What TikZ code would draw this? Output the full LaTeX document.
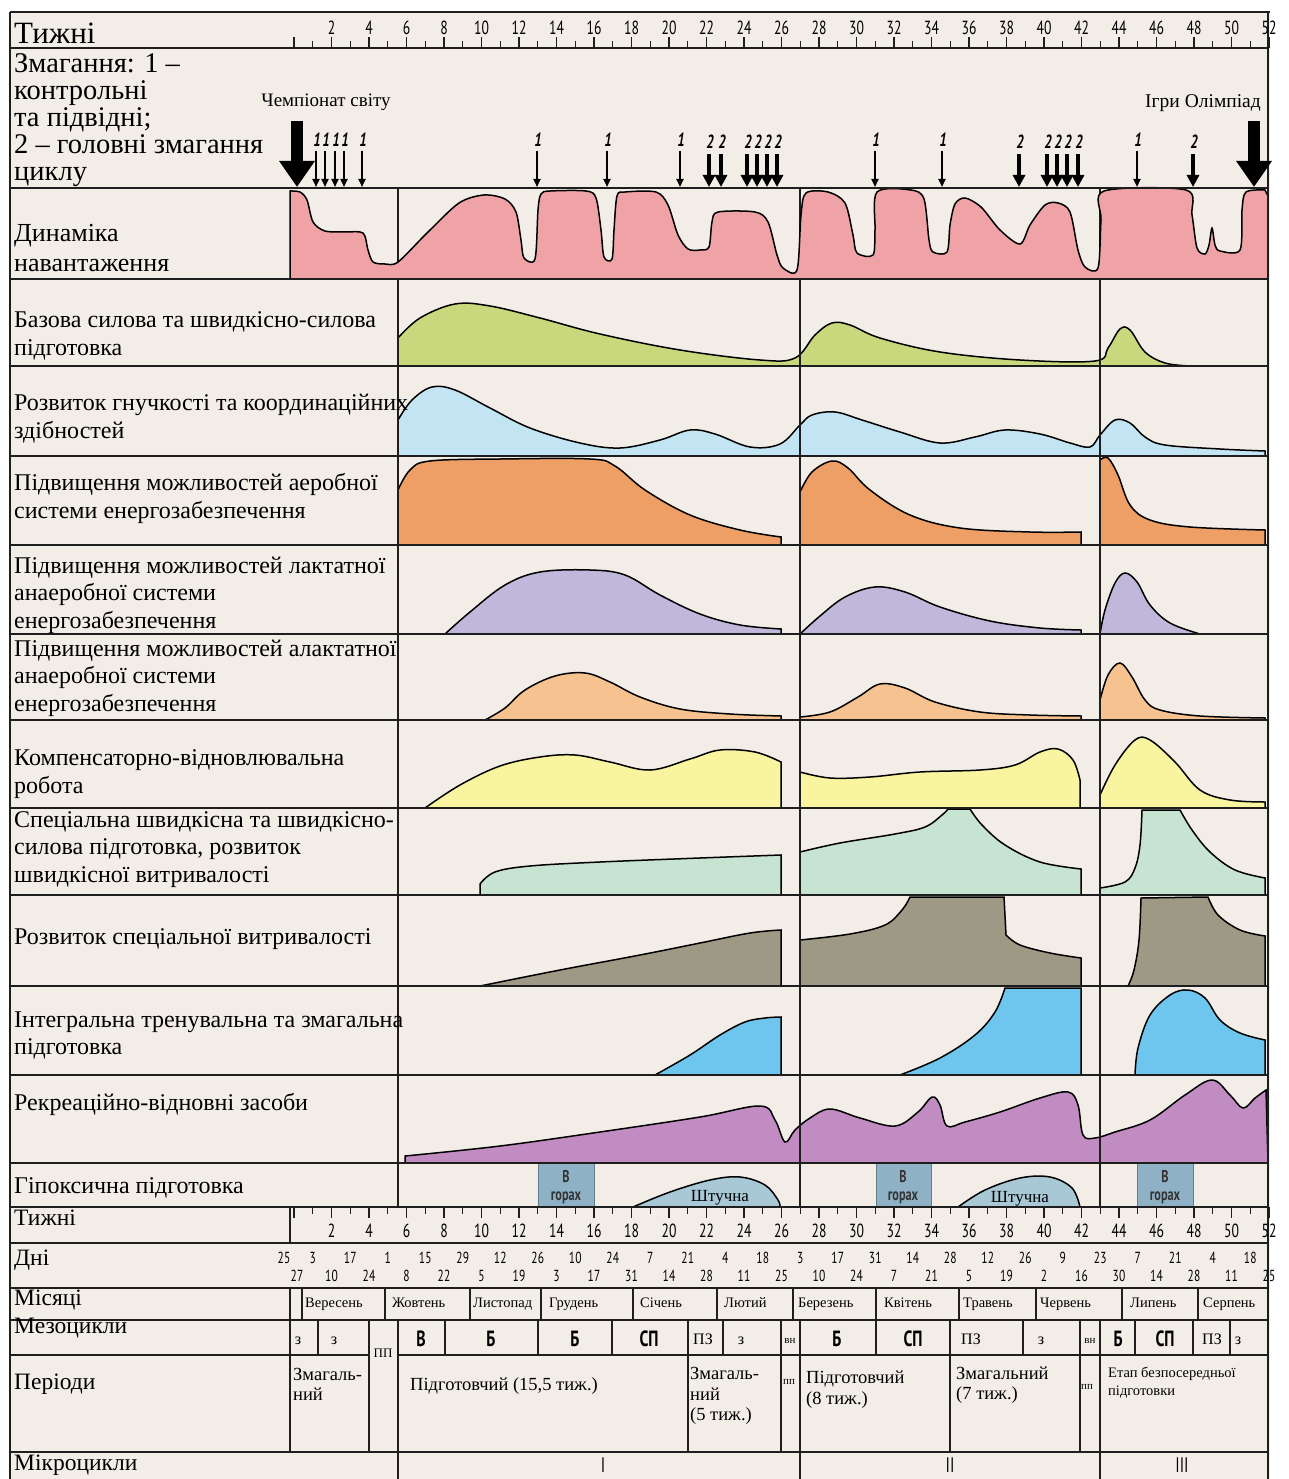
\documentclass[tikz,border=0pt]{standalone}
\usepackage{fontspec}
\setmainfont{Liberation Serif}
\newfontfamily\condsans[FakeStretch=0.72]{PT Sans}
\usetikzlibrary{arrows.meta}
\definecolor{bgc}{HTML}{F3EDE8}
\definecolor{pinkc}{HTML}{EFA3A7}
\definecolor{greenc}{HTML}{C9D87C}
\definecolor{lbluec}{HTML}{C3E4F3}
\definecolor{orangec}{HTML}{EE9F66}
\definecolor{lavc}{HTML}{BFB8DB}
\definecolor{peachc}{HTML}{F6C28F}
\definecolor{yellc}{HTML}{F8F4A0}
\definecolor{mintc}{HTML}{C7E3D1}
\definecolor{olivec}{HTML}{9D9984}
\definecolor{skyc}{HTML}{6EC6EE}
\definecolor{purpc}{HTML}{C18CC2}
\definecolor{hypc}{HTML}{8FB1C6}
\definecolor{hyptwo}{HTML}{A8C8D6}
\definecolor{linec}{HTML}{1E1E1E}
\newcommand\rowlbl[5]{%
  \foreach \t [count=\i from 0] in {#5}{\node[#2] (#1\i) at (14,{#3+#4*\i}) {\t};}}
\begin{document}
\begin{tikzpicture}[x=1pt,y=-1pt,
  grid/.style={line width=1.3pt, draw=linec},
  curve/.style={line width=1.5pt, draw=black},
  lbl/.style={font=\fontsize{24}{28}\selectfont, inner sep=0pt, anchor=base west},
  lblbig/.style={font=\fontsize{28.5}{28}\selectfont, inner sep=0pt, anchor=base west},
  lbldyn/.style={font=\fontsize{26}{28}\selectfont, inner sep=0pt, anchor=base west},
  lblbot/.style={font=\fontsize{23.5}{26}\selectfont, inner sep=0pt, anchor=base west},
  wk/.style={font=\condsans\fontsize{19}{19}\selectfont, inner sep=0pt, anchor=base},
  day/.style={font=\condsans\fontsize{16}{16}\selectfont, inner sep=0pt, anchor=base},
  mon/.style={font=\fontsize{14.5}{15}\selectfont, inner sep=0pt, anchor=base west},
  meso/.style={font=\fontsize{16}{16}\selectfont, inner sep=0pt, anchor=base},
  mesob/.style={font=\condsans\bfseries\fontsize{22}{22}\selectfont, inner sep=0pt, anchor=base},
  per/.style={font=\fontsize{18.5}{20}\selectfont, inner sep=0pt, anchor=base west},
  comp/.style={font=\condsans\bfseries\itshape\fontsize{19}{19}\selectfont, inner sep=0pt, anchor=base},
  arrone/.style={line width=1.8pt, draw=black, -{Triangle[width=7pt,length=8pt]}},
  arrtwo/.style={line width=4.5pt, draw=black, -{Triangle[width=12pt,length=12pt]}},
  arrbig/.style={line width=12pt, draw=black, -{Triangle[width=34pt,length=26pt]}},
  hbox/.style={fill=hypc, draw=hypc!70!black, line width=0.6pt},
  htxt/.style={font=\condsans\bfseries\fontsize{17}{17}\selectfont, text=black!80, inner sep=0pt, anchor=base},
  mcyc/.style={font=\condsans\fontsize{21}{21}\selectfont, inner sep=0pt, anchor=base}
]
\useasboundingbox (0,0) rectangle (1289,1479);
\fill[white] (0,0) rectangle (1289,1479);
\fill[bgc] (10,12) rectangle (1270,1479);

% lines in load row (under pink)
\foreach \x in {398,800,1100} \draw[grid] (\x,188) -- (\x,279);

% ---- Load dynamics
\filldraw[fill=pinkc, curve] (290,279) -- (290,191) -- plot[smooth,tension=0.5] coordinates {
 (290,191) (300,192) (307,200) (313,222) (325,231) (345,232) (363,233) (368,250) (373,262) (385,264) (398,262)
 (427,233) (459,203) (484,195) (505,199) (516,212) (521,240) (524,258) (535,259) (538,210) (541,194) (550,191)
 (586,191) (596,198) (601,230) (604,257) (612,259) (614,230) (617,196) (625,192) (656,192) (668,205) (678,235)
 (688,249) (700,250) (709,247) (712,222) (718,212) (755,212) (768,222) (777,255) (783,268) (797,270)
 (801,215) (806,193) (828,192) (845,203) (853,235) (857,253) (873,255) (875,230) (877,192) (911,190)
 (924,199) (929,240) (933,252) (947,252) (950,225) (955,204) (965,198) (981,207) (1000,230) (1020,244)
 (1030,225) (1045,205) (1058,203) (1070,212) (1078,250) (1085,267) (1098,268) (1101,220) (1104,191)
 (1186,190) (1192,215) (1197,248) (1205,254) (1209,245) (1212,228) (1215,245) (1220,251) (1240,250)
 (1242,210) (1246,192) (1265,190)} -- (1268,196) -- (1268,279) -- cycle;

% ---- Base strength
\filldraw[fill=greenc, curve] (398,366) -- (398,338) -- plot[smooth,tension=0.6] coordinates {
 (398,338) (420,318) (455,304) (490,306) (540,318) (600,334) (680,350) (760,360) (795,358) (815,335)
 (832,323) (850,325) (880,338) (940,352) (1020,360) (1095,361) (1108,348) (1120,329) (1130,330) (1145,352) (1165,363) (1190,366)} -- cycle;

% ---- Flexibility
\filldraw[fill=lbluec, curve] (398,456) -- (398,420) -- plot[smooth,tension=0.6] coordinates {
 (398,420) (412,400) (432,387) (455,390) (490,408) (530,428) (580,443) (620,448) (660,440) (690,430) (715,434)
 (750,447) (780,444) (800,425) (812,415) (835,412) (862,420) (900,432) (940,443) (975,437) (1005,430)
 (1040,434) (1070,443) (1090,447) (1100,435) (1115,420) (1130,423) (1145,437) (1165,445) (1220,449) (1265,451)}
 -- (1265,456) -- cycle;

% ---- Aerobic
\filldraw[fill=orangec, curve] (398,545) -- (398,490) -- plot[smooth,tension=0.6] coordinates {
 (398,490) (410,470) (430,461) (500,459) (590,459) (615,466) (645,490) (690,515) (740,530) (781,537)} -- (781,545) -- cycle;
\filldraw[fill=orangec, curve] (800,545) -- (800,492) -- plot[smooth,tension=0.6] coordinates {
 (800,492) (812,472) (832,461) (848,468) (870,490) (910,515) (960,528) (1030,532) (1081,532)} -- (1081,545) -- cycle;
\filldraw[fill=orangec, curve] (1100,545) -- (1100,460) -- plot[smooth,tension=0.6] coordinates {
 (1100,460) (1108,458) (1118,475) (1130,505) (1150,520) (1190,527) (1265,530)} -- (1265,545) -- cycle;

% ---- Lactate
\filldraw[fill=lavc, curve] (445,634) -- plot[smooth,tension=0.6] coordinates {
 (445,634) (470,612) (505,585) (540,572) (590,570) (625,575) (660,595) (700,614) (740,625) (781,629)} -- (781,634) -- cycle;
\filldraw[fill=lavc, curve] (800,634) -- plot[smooth,tension=0.6] coordinates {
 (800,634) (820,616) (845,597) (875,587) (905,592) (940,607) (990,621) (1040,628) (1081,630)} -- (1081,634) -- cycle;
\filldraw[fill=lavc, curve] (1100,634) -- plot[smooth,tension=0.6] coordinates {
 (1100,634) (1105,610) (1115,583) (1125,573) (1137,582) (1150,605) (1170,623) (1200,634)} -- cycle;

% ---- Alactate
\filldraw[fill=peachc, curve] (485,720) -- plot[smooth,tension=0.6] coordinates {
 (485,720) (505,708) (525,690) (555,676) (585,673) (610,682) (640,697) (680,709) (730,714) (781,716)} -- (781,720) -- cycle;
\filldraw[fill=peachc, curve] (800,720) -- (800,717) -- plot[smooth,tension=0.6] coordinates {
 (800,717) (830,712) (858,697) (880,684) (905,688) (935,702) (980,712) (1030,715) (1081,716)} -- (1081,720) -- cycle;
\filldraw[fill=peachc, curve] (1100,720) -- (1100,700) -- plot[smooth,tension=0.6] coordinates {
 (1100,700) (1108,675) (1120,663) (1132,677) (1145,700) (1160,710) (1200,716) (1265,718)} -- (1265,720) -- cycle;

% ---- Compensatory
\filldraw[fill=yellc, curve] (425,808) -- plot[smooth,tension=0.6] coordinates {
 (425,808) (460,785) (500,766) (540,757) (575,755) (610,762) (650,770) (690,759) (720,750) (755,752) (781,762)} -- (781,808) -- cycle;
\filldraw[fill=yellc, curve] (800,808) -- (800,772) -- plot[smooth,tension=0.6] coordinates {
 (800,772) (830,778) (870,777) (920,772) (980,770) (1015,765) (1040,752) (1058,749) (1073,760) (1080,780)} -- (1080,808) -- cycle;
\filldraw[fill=yellc, curve] (1100,808) -- (1100,795) -- plot[smooth,tension=0.6] coordinates {
 (1100,795) (1115,765) (1135,740) (1150,740) (1175,762) (1200,790) (1230,800) (1265,802)} -- (1265,808) -- cycle;

% ---- Special speed
\filldraw[fill=mintc, curve] (480,895) -- (480,884) -- plot[smooth,tension=0.6] coordinates {
 (480,884) (495,872) (530,866) (600,862) (700,858) (781,855)} -- (781,895) -- cycle;
\filldraw[fill=mintc, curve] (800,895) -- (800,852) -- plot[smooth,tension=0.6] coordinates {
 (800,852) (840,843) (895,834) (925,827) (942,815) (948,809)} -- (970,809) -- plot[smooth,tension=0.6] coordinates {
 (970,809) (982,825) (1005,845) (1040,862) (1081,869)} -- (1081,895) -- cycle;
\filldraw[fill=mintc, curve] (1100,895) -- (1100,888) -- plot[smooth,tension=0.6] coordinates {
 (1100,888) (1125,882) (1135,868) (1140,845) (1142,810)} -- (1180,810) -- plot[smooth,tension=0.6] coordinates {
 (1180,810) (1192,830) (1210,852) (1235,870) (1265,878)} -- (1265,895) -- cycle;

% ---- Special endurance
\filldraw[fill=olivec, curve] (480,986) -- plot[smooth,tension=0.6] coordinates {
 (480,986) (560,970) (640,955) (700,943) (750,933) (781,930)} -- (781,986) -- cycle;
\filldraw[fill=olivec, curve] (800,986) -- (800,940) -- plot[smooth,tension=0.6] coordinates {
 (800,940) (850,934) (885,925) (902,910) (910,897)} -- (1004,897) -- (1006,935) -- plot[smooth,tension=0.6] coordinates {
 (1006,935) (1020,945) (1050,953) (1081,958)} -- (1081,986) -- cycle;
\filldraw[fill=olivec, curve] (1128,986) -- plot[smooth,tension=0.6] coordinates {
 (1128,986) (1134,970) (1139,940) (1141,898)} -- (1208,897) -- plot[smooth,tension=0.6] coordinates {
 (1208,897) (1218,915) (1240,930) (1265,936)} -- (1265,986) -- cycle;

% ---- Integral
\filldraw[fill=skyc, curve] (655,1075) -- plot[smooth,tension=0.6] coordinates {
 (655,1075) (690,1055) (720,1035) (745,1022) (765,1018) (781,1017)} -- (781,1075) -- cycle;
\filldraw[fill=skyc, curve] (900,1075) -- plot[smooth,tension=0.6] coordinates {
 (900,1075) (940,1058) (975,1035) (995,1012) (1005,988)} -- (1081,988) -- (1081,1075) -- cycle;
\filldraw[fill=skyc, curve] (1135,1075) -- plot[smooth,tension=0.6] coordinates {
 (1135,1075) (1138,1048) (1150,1015) (1170,995) (1188,990) (1205,998) (1220,1020) (1240,1033) (1265,1040)} -- (1265,1075) -- cycle;

% ---- Recreation
\filldraw[fill=purpc, curve] (405,1163) -- (405,1156) -- plot[smooth,tension=0.6] coordinates {
 (405,1156) (500,1146) (600,1132) (700,1117) (760,1106) (775,1120) (785,1142) (795,1130) (810,1118) (830,1109)
 (860,1118) (895,1126) (918,1112) (932,1097) (940,1105) (947,1126) (965,1122) (1000,1112) (1040,1098)
 (1068,1092) (1078,1105) (1083,1135) (1095,1138) (1115,1132) (1150,1120) (1185,1095) (1212,1080)
 (1230,1095) (1243,1108) (1255,1098) (1266,1090)} -- (1268,1163) -- cycle;

% ---- Hypoxic
\filldraw[fill=hyptwo, curve] (633,1207) -- plot[smooth,tension=0.6] coordinates {
 (633,1207) (670,1192) (710,1180) (740,1177) (765,1185) (778,1200) (780,1207)} -- cycle;
\filldraw[fill=hyptwo, curve] (958,1207) -- plot[smooth,tension=0.6] coordinates {
 (958,1207) (985,1190) (1020,1178) (1050,1177) (1072,1188) (1080,1207)} -- cycle;
\filldraw[hbox] (538,1163) rectangle (594,1207);
\filldraw[hbox] (876,1163) rectangle (931,1207);
\filldraw[hbox] (1137,1163) rectangle (1193,1207);
\foreach \cx [count=\i] in {566,903,1165}{
  \node[htxt] (hb\i) at (\cx,1182) {В};
  \node[htxt] (hg\i) at (\cx,1200) {горах};}
\node[font=\fontsize{17}{17}\selectfont, inner sep=0pt, anchor=base] (sh1) at (720,1201) {Штучна};
\node[font=\fontsize{17}{17}\selectfont, inner sep=0pt, anchor=base] (sh2) at (1020,1202) {Штучна};

% ---- grid
\draw[grid] (10,12) -- (1270,12);
\foreach \y in {48,188,279,366,456,545,634,720,808,895,986,1075,1163,1207,1243,1288,1320}
  \draw[grid] (10,\y) -- (1268,\y);
\draw[grid] (10,1355) -- (369,1355) (398,1355) -- (1268,1355);
\draw[grid, line width=2.4pt] (10,1452) -- (1268,1452);
\draw[grid] (10,12) -- (10,1479);
\draw[grid] (1268,12) -- (1268,1479);
\foreach \x in {398,800,1100}{
  \draw[grid] (\x,279) -- (\x,1207);
  \draw[grid] (\x,1320) -- (\x,1479);}
\draw[grid] (290,1207) -- (290,1243);
\draw[grid] (290,1288) -- (290,1452);
\draw[grid] (302,1288) -- (302,1320);
\foreach \x in {385,470,541,633,717,793,876,959,1036,1122,1198}
  \draw[grid] (\x,1288) -- (\x,1320);
\foreach \x in {318,445,538,612,723,876,1023,1135,1193,1230}
  \draw[grid] (\x,1320) -- (\x,1355);
\foreach \x in {369,688,781,950,1080}
  \draw[grid] (\x,1320) -- (\x,1452);

% ---- week axes
\foreach \n in {0,...,52}{
  \pgfmathsetmacro\xx{294+18.75*\n}
  \pgfmathsetmacro\tl{ifthenelse(mod(\n,2)==0,11,7)}
  \draw[line width=1.2pt, linec] (\xx,48) -- (\xx,48-\tl);
  \draw[line width=1.2pt, linec] (\xx,1207) -- (\xx,1207+\tl);}
\foreach \n in {2,4,...,52}{
  \node[wk] (wt\n) at ({294+18.75*\n},35) {\n};
  \node[wk] (wb\n) at ({294+18.75*\n},1237) {\n};}

% ---- days
\foreach \d [count=\i from 0] in {3,17,1,15,29,12,26,10,24,7,21,4,18,3,17,31,14,28,12,26,9,23,7,21,4,18}
  \node[day] (dt\i) at ({294+18.75*(2*\i+1)},1263) {\d};
\node[day] (dtz) at (284,1263) {25};
\foreach \d [count=\i from 0] in {27,10,24,8,22,5,19,3,17,31,14,28,11,25,10,24,7,21,5,19,2,16,30,14,28,11,25}
  \node[day] (db\i) at ({294+18.75*(2*\i)+ifthenelse(\i==0,3,0)},1281) {\d};

% ---- months
\foreach \m/\x [count=\i] in {Вересень/305,Жовтень/392,Листопад/473,Грудень/549,Січень/640,Лютий/724,Березень/798,Квітень/884,Травень/963,Червень/1040,Липень/1130,Серпень/1203}
  \node[mon] (m\i) at (\x,1307) {\m};

% ---- mesocycles
\foreach \t/\x [count=\i] in {з/298,з/334,ПЗ/703,з/741,ПЗ/971,з/1041,ПЗ/1212,з/1238}
  \node[meso] (ms\i) at (\x,1344) {\t};
\node[meso, font=\fontsize{11}{11}\selectfont] (vn1) at (790,1343) {вн};
\node[meso, font=\fontsize{11}{11}\selectfont] (vn2) at (1090,1343) {вн};
\node[meso, font=\fontsize{13}{13}\selectfont] (pp0) at (383,1357) {ПП};
\foreach \t/\x [count=\i] in {В/421,Б/491,Б/575,СП/649,Б/837,СП/913,Б/1118,СП/1165}
  \node[mesob] (mb\i) at (\x,1346) {\t};

% ---- periods
\node[per] (p1) at (293,1380) {Змагаль-};
\node[per] (p1b) at (293,1400) {ний};
\node[per] (p2) at (410,1390) {Підготовчий (15,5 тиж.)};
\node[per] (p3) at (690,1379) {Змагаль-};
\node[per] (p3b) at (690,1400) {ний};
\node[per] (p3c) at (690,1420) {(5 тиж.)};
\node[per, font=\fontsize{11}{11}\selectfont] (pp1) at (783,1384) {пп};
\node[per] (p4) at (806,1383) {Підготовчий};
\node[per] (p4b) at (806,1404) {(8 тиж.)};
\node[per] (p5) at (956,1379) {Змагальний};
\node[per] (p5b) at (956,1399) {(7 тиж.)};
\node[per, font=\fontsize{11}{11}\selectfont] (pp2) at (1081,1389) {пп};
\node[per, font=\fontsize{14.5}{14.5}\selectfont] (p6) at (1108,1377) {Етап безпосередньої};
\node[per, font=\fontsize{14.5}{14.5}\selectfont] (p6b) at (1108,1395) {підготовки};

% ---- microcycles
\node[mcyc] (mc1) at (603,1472) {I};
\node[mcyc] (mc2) at (950,1472) {II};
\node[mcyc] (mc3) at (1182,1472) {III};

% ---- competitions
\draw[arrbig] (297,121) -- (297,187);
\draw[arrbig] (1254,121) -- (1254,187);
\node[font=\fontsize{19}{19}\selectfont, inner sep=0pt, anchor=base] (chs) at (326,107) {Чемпіонат світу};
\node[font=\fontsize{19.5}{19.5}\selectfont, inner sep=0pt, anchor=base] (igr) at (1203,108) {Ігри Олімпіад};
\foreach \x [count=\i] in {316,325,335,344,362,537,607,680,875,942,1137}{
  \draw[arrone] (\x,151) -- (\x,187);
  \node[comp] (c1n\i) at (\x+1,147) {1};}
\foreach \x [count=\i] in {709,721,747,757,767,777,1019,1047,1057,1067,1078,1193}{
  \draw[arrtwo] (\x,154) -- (\x,187);
  \node[comp] (c2n\i) at (\x+1,149) {2};}

% ---- row labels
\node[lbl, font=\fontsize{31}{31}\selectfont] (tw) at (14,44) {Тижні};
\rowlbl{zm}{lblbig}{73}{27}{Змагання: 1 –,контрольні,та підвідні;,2 – головні змагання,циклу}
\rowlbl{dn}{lbldyn}{241}{30}{Динаміка,навантаження}
\rowlbl{bz}{lbl}{327}{28}{Базова силова та швидкісно-силова,підготовка}
\rowlbl{gn}{lbl}{410}{28}{Розвиток гнучкості та координаційних,здібностей}
\rowlbl{ae}{lbl}{490}{28}{Підвищення можливостей аеробної,системи енергозабезпечення}
\rowlbl{la}{lbl}{573}{27.5}{Підвищення можливостей лактатної,анаеробної системи,енергозабезпечення}
\rowlbl{al}{lbl}{656}{27.5}{Підвищення можливостей алактатної,анаеробної системи,енергозабезпечення}
\rowlbl{kv}{lbl}{765}{28}{Компенсаторно-відновлювальна,робота}
\rowlbl{sp}{lbl}{827}{27.5}{Спеціальна швидкісна та швидкісно-,{силова підготовка, розвиток},швидкісної витривалості}
\rowlbl{sv}{lbl}{944}{28}{Розвиток спеціальної витривалості}
\rowlbl{it}{lbl}{1027}{27}{Інтегральна тренувальна та змагальна,підготовка}
\rowlbl{rv}{lbl}{1110}{28}{Рекреаційно-відновні засоби}
\rowlbl{gp}{lbl}{1193}{28}{Гіпоксична підготовка}
\node[lblbot] (twb) at (14,1225) {Тижні};
\node[lblbot] (dni) at (14,1265) {Дні};
\node[lblbot] (mis) at (14,1305) {Місяці};
\node[lblbot] (mez) at (14,1333) {Мезоцикли};
\node[lblbot] (per) at (14,1389) {Періоди};
\node[lblbot] (mik) at (14,1470) {Мікроцикли};
\end{tikzpicture}
\end{document}
